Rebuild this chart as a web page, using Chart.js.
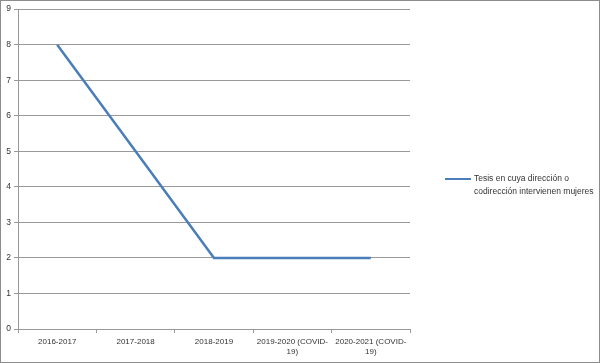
<!DOCTYPE html>
<html>
<head>
<meta charset="utf-8">
<script src="https://cdn.jsdelivr.net/npm/chart.js@4"></script>
<style>
    html, body { margin: 0; padding: 0; background: #fff; }
    #wrap { position: relative; width: 600px; height: 363px; box-sizing: border-box; border: 1px solid #8c8c8c; }
    #legend { position: absolute; left: 444px; top: 171px; font: 8.5px "Liberation Sans", Arial, sans-serif; color: #333; line-height: 13px; white-space: nowrap; }
    #legend .swatch { position: absolute; left: 0; top: 6px; width: 26px; height: 2px; background: #4a7ebb; }
    #legend .text { margin-left: 29px; }
</style>
</head>
<body>
<div id="wrap">
    <canvas id="chart" width="598" height="361"></canvas>
    <div id="legend"><span class="swatch"></span><div class="text">Tesis en cuya dirección o<br>codirección intervienen mujeres</div></div>
</div>
<script>
// Categorías del eje X
const CATEGORIES = ['2016-2017', '2017-2018', '2018-2019', ['2019-2020 (COVID-', '19)'], ['2020-2021 (COVID-', '19)']];
// Valores de la serie
const VALUES = [8, 5, 2, 2, 2];
const SERIES_LABEL = 'Tesis en cuya dirección o codirección intervienen mujeres';

Chart.defaults.font.family = '"Liberation Sans", Arial, sans-serif';
Chart.defaults.font.size = 8.5;
Chart.defaults.color = '#333';

new Chart(document.getElementById('chart'), {
    type: 'line',
    data: {
        labels: CATEGORIES,
        datasets: [{
            label: SERIES_LABEL,
            data: VALUES,
            borderColor: '#4a7ebb',
            borderWidth: 2.5,
            pointRadius: 0,
            tension: 0,
            fill: false
        }]
    },
    options: {
        responsive: false,
        animation: false,
        layout: { padding: { top: 8, right: 189, bottom: 0, left: 0 } },
        plugins: {
            legend: { display: false },
            tooltip: { enabled: false }
        },
        scales: {
            x: {
                offset: true,
                grid: { display: true, drawOnChartArea: false, offset: true, color: '#999', tickLength: 4 },
                border: { color: '#999' },
                ticks: { autoSkip: false, maxRotation: 0, padding: 4, font: { size: 8 } },
                afterFit: (scale) => { scale.height = 33; }
            },
            y: {
                min: 0,
                max: 9,
                ticks: { stepSize: 1, padding: 3 },
                grid: { color: '#999', tickLength: 4 },
                border: { color: '#999' },
                afterFit: (scale) => { scale.width = 17; }
            }
        }
    }
});
</script>
</body>
</html>
